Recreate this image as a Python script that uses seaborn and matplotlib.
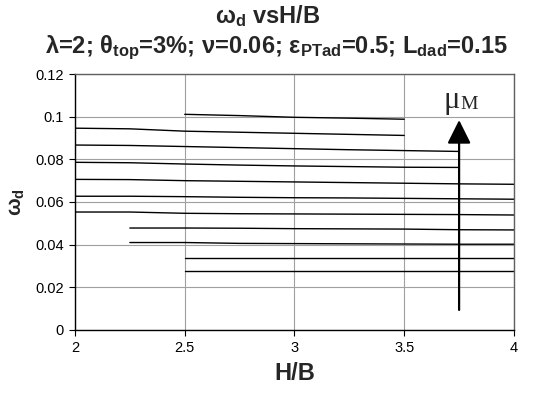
import numpy as np
import pandas as pd
import matplotlib
matplotlib.use("Agg")
import matplotlib.pyplot as plt
import seaborn as sns

# ---- data ----
x_A = [2.5, 2.75, 3.0, 3.25, 3.5]
y_A = [0.1011, 0.1005, 0.0997, 0.0993, 0.0988]
x_B = [2.0, 2.25, 2.5, 2.75, 3.0, 3.25, 3.5]
y_B = [0.0946, 0.0943, 0.0932, 0.0927, 0.0922, 0.0917, 0.0912]
x_C = [2.0, 2.25, 2.5, 2.75, 3.0, 3.25, 3.5, 3.75]
y_C = [0.0867, 0.0865, 0.0860, 0.0855, 0.0850, 0.0845, 0.0841, 0.0837]
x_D = [2.0, 2.25, 2.5, 2.75, 3.0, 3.25, 3.5, 3.75]
y_D = [0.0786, 0.0784, 0.0778, 0.0773, 0.0769, 0.0766, 0.0763, 0.0762]
x_E = [2.0, 2.25, 2.5, 2.75, 3.0, 3.25, 3.5, 3.75, 4.0]
y_E = [0.0706, 0.0705, 0.0700, 0.0697, 0.0694, 0.0691, 0.0688, 0.0685, 0.0683]
x_F = [2.0, 2.25, 2.5, 2.75, 3.0, 3.25, 3.5, 3.75, 4.0]
y_F = [0.0627, 0.0627, 0.0625, 0.0622, 0.0620, 0.0619, 0.0617, 0.0615, 0.0613]
x_H = [2.0, 2.25, 2.5, 2.75, 3.0, 3.25, 3.5, 3.75, 4.0]
y_H = [0.0553, 0.0553, 0.0547, 0.0545, 0.0544, 0.0543, 0.0542, 0.0541, 0.0539]
x_I = [2.25, 2.5, 2.75, 3.0, 3.25, 3.5, 3.75, 4.0]
y_I = [0.0478, 0.0478, 0.0477, 0.0475, 0.0474, 0.0473, 0.0470, 0.0469]
x_J = [2.25, 2.5, 2.75, 3.0, 3.25, 3.5, 3.75, 4.0]
y_J = [0.0410, 0.0410, 0.0406, 0.0405, 0.0404, 0.0403, 0.0402, 0.0402]
x_K = [2.5, 2.75, 3.0, 3.25, 3.5, 3.75, 4.0]
y_K = [0.0339, 0.0339, 0.0339, 0.0339, 0.0339, 0.0339, 0.0339]
x_L = [2.5, 2.75, 3.0, 3.25, 3.5, 3.75, 4.0]
y_L = [0.0275, 0.0275, 0.0275, 0.0275, 0.0275, 0.0275, 0.0275]

series = {"A": (x_A, y_A), "B": (x_B, y_B), "C": (x_C, y_C), "D": (x_D, y_D),
          "E": (x_E, y_E), "F": (x_F, y_F), "H": (x_H, y_H), "I": (x_I, y_I),
          "J": (x_J, y_J), "K": (x_K, y_K), "L": (x_L, y_L)}

arrow_x = 3.75
arrow_y0 = 0.0094
arrow_y1 = 0.0984

x_ticks = [2, 2.5, 3, 3.5, 4]
x_ticklabels = ["2", "2.5", "3", "3.5", "4"]
y_ticks = [0, 0.02, 0.04, 0.06, 0.08, 0.1, 0.12]
y_ticklabels = ["0", "0.02", "0.04", "0.06", "0.08", "0.1", "0.12"]

rows = []
for name, (xs, ys) in series.items():
    for xv, yv in zip(xs, ys):
        rows.append({"curve": name, "HB": xv, "wd": yv})
df = pd.DataFrame(rows)

sns.set_theme(style="white")
plt.rcParams["font.family"] = ["Liberation Sans", "DejaVu Sans"]
plt.rcParams["mathtext.fontset"] = "custom"
plt.rcParams["mathtext.rm"] = "Liberation Sans:bold"
plt.rcParams["mathtext.bf"] = "Liberation Sans:bold"
plt.rcParams["mathtext.default"] = "rm"

fig = plt.figure(figsize=(5.34, 3.97), dpi=100)
ax = fig.add_axes([0.1404, 0.1688, 0.8221, 0.6448])

sns.lineplot(data=df, x="HB", y="wd", hue="curve", units="curve", estimator=None,
             palette=["black"] * len(series), legend=False, linewidth=1.0,
             sort=False, ax=ax)

ax.set_xlim(2, 4)
ax.set_ylim(0, 0.12)
ax.set_xticks(x_ticks)
ax.set_xticklabels(x_ticklabels, fontsize=10.5)
ax.set_yticks(y_ticks)
ax.set_yticklabels(y_ticklabels, fontsize=10.5)
ax.grid(True, color="#a0a0a0", linewidth=0.8)
ax.set_axisbelow(True)
ax.tick_params(axis="both", direction="out", length=4, width=0.8, color="black",
               bottom=True, left=True, pad=4, labelcolor="black")
for side in ["left", "bottom"]:
    ax.spines[side].set_color("black")
    ax.spines[side].set_linewidth(1.0)
for side in ["top", "right"]:
    ax.spines[side].set_color("#606060")
    ax.spines[side].set_linewidth(1.0)

ax.set_xlabel("H/B", fontsize=17, fontweight="bold", labelpad=5)
ax.set_ylabel("ω$_\\mathrm{d}$", fontsize=15, fontweight="bold", labelpad=6)

ax.annotate("", xy=(arrow_x, arrow_y1), xytext=(arrow_x, arrow_y0),
            arrowprops=dict(arrowstyle="-|>,head_length=1.2,head_width=0.6",
                            color="black", lw=1.6, shrinkA=0, shrinkB=0))
ax.text(arrow_x + 0.005, 0.1075, "μ", fontsize=22, family="Liberation Serif",
        ha="right", va="center")
ax.text(arrow_x + 0.005, 0.1058, "M", fontsize=14, family="Liberation Serif",
        ha="left", va="center")

fig.text(0.502, 0.960, "ω$_\\mathrm{d}$ vsH/B", fontsize=17, fontweight="bold",
         ha="center", va="center")
fig.text(0.517, 0.880,
         "λ=2; θ$_\\mathrm{top}$=3%; ν=0.06; ε$_\\mathrm{PTad}$=0.5; L$_\\mathrm{dad}$=0.15",
         fontsize=17, fontweight="bold", ha="center", va="center")

fig.savefig("out.png", dpi=100, facecolor="white")
